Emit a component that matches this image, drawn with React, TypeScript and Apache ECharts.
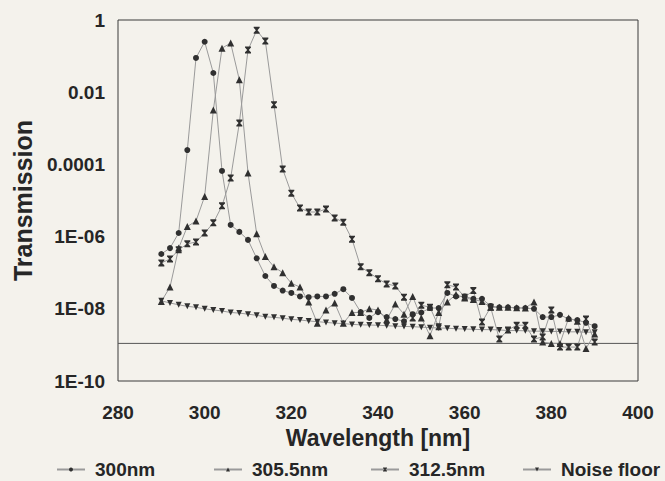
import React, { useEffect, useRef } from "react";
import * as echarts from "echarts";

const WAVELENGTHS = [
  290, 292, 294, 296, 298, 300, 302, 304, 306, 308,
  310, 312, 314, 316, 318, 320, 322, 324, 326, 328,
  330, 332, 334, 336, 338, 340, 342, 344, 346, 348,
  350, 352, 354, 356, 358, 360, 362, 364, 366, 368,
  370, 372, 374, 376, 378, 380, 382, 384, 386, 388,
  390,
];

const T_300 = [
  3.3e-7, 4.8e-7, 1.26e-6, 2.5e-4, 8.9e-2, 0.25, 3.4e-2, 6.6e-5, 2.1e-6, 1.35e-6,
  8.1e-7, 2.5e-7, 8.1e-8, 4.3e-8, 3.2e-8, 2.75e-8, 2.2e-8, 2.1e-8, 2.2e-8, 2.2e-8,
  2.6e-8, 3.5e-8, 2.0e-8, 8.1e-9, 5.6e-9, 8.1e-9, 5.9e-9, 5.2e-9, 4.5e-9, 7.1e-9,
  7.9e-9, 1.05e-8, 1.05e-8, 2.75e-8, 2.2e-8, 2.2e-8, 1.9e-8, 1.9e-8, 1.2e-8, 1.1e-8,
  1.1e-8, 1.05e-8, 1.05e-8, 1.0e-8, 5.9e-9, 5.9e-9, 6.8e-9, 5.2e-9, 4.9e-9, 4.1e-9,
  3.3e-9,
];

const T_305 = [
  1.6e-8, 4.0e-8, 4.8e-7, 1.9e-6, 2.7e-6, 1.3e-5, 3.2e-3, 0.166, 0.23, 2.2e-2,
  5.8e-5, 1.2e-6, 2.8e-7, 1.45e-7, 1.0e-7, 5.1e-8, 4.0e-8, 1.55e-8, 4.0e-9, 9.3e-9,
  1.45e-8, 4.0e-9, 7.9e-9, 7.9e-9, 1.0e-8, 9.3e-9, 5.0e-9, 1.35e-8, 7.1e-9, 2.2e-8,
  5.6e-9, 1.8e-9, 7.9e-9, 1.55e-8, 2.5e-8, 2.0e-8, 1.8e-8, 1.6e-8, 1.1e-8, 1.1e-8,
  1.1e-8, 1.07e-8, 1.05e-8, 1.55e-8, 1.2e-9, 1.1e-9, 1.1e-9, 5.6e-9, 4.5e-9, 8e-10,
  2.0e-9,
];

const T_312 = [
  1.86e-7, 2.4e-7, 4.3e-7, 6.3e-7, 7.1e-7, 1.26e-6, 2.4e-6, 7.1e-6, 4.2e-5, 1.4e-3,
  0.148, 0.52, 0.26, 4.5e-3, 7.4e-5, 1.6e-5, 6.2e-6, 4.8e-6, 4.8e-6, 5.8e-6,
  3.3e-6, 2.5e-6, 8.5e-7, 1.45e-7, 1.0e-7, 6.8e-8, 4.9e-8, 4.3e-8, 2.1e-8, 5.6e-9,
  1.26e-8, 1.1e-8, 3.2e-9, 4.6e-8, 4.0e-8, 2.1e-8, 3.2e-8, 4.3e-9, 1.1e-8, 1.45e-9,
  2.6e-9, 3.5e-9, 3.5e-9, 1.45e-9, 1.66e-9, 9.3e-9, 8.7e-10, 8.7e-10, 8.7e-10, 5.2e-9,
  1.2e-9,
];

const T_NOISE = [
  1.66e-8, 1.45e-8, 1.29e-8, 1.17e-8, 1.1e-8, 1.0e-8, 9.3e-9, 8.7e-9, 7.9e-9, 7.6e-9,
  7.1e-9, 6.6e-9, 6.0e-9, 5.8e-9, 5.5e-9, 5.1e-9, 4.9e-9, 4.6e-9, 4.4e-9, 4.2e-9,
  4.0e-9, 3.9e-9, 3.7e-9, 3.6e-9, 3.55e-9, 3.5e-9, 3.4e-9, 3.3e-9, 3.25e-9, 3.2e-9,
  3.1e-9, 3.0e-9, 2.95e-9, 2.9e-9, 2.8e-9, 2.75e-9, 2.7e-9, 2.65e-9, 2.65e-9, 2.6e-9,
  2.5e-9, 2.5e-9, 2.45e-9, 2.4e-9, 2.4e-9, 2.35e-9, 2.35e-9, 2.3e-9, 2.3e-9, 2.25e-9,
  2.25e-9,
];

const REFERENCE_LEVEL = 1.1e-9;
const X_RANGE = [280, 400];

const SERIES_NAMES = ["300nm", "305.5nm", "312.5nm", "Noise floor"];

// exponent -> label
const Y_TICK_LABELS: Record<string, string> = {
  "0": "1",
  "-2": "0.01",
  "-4": "0.0001",
  "-6": "1E-06",
  "-8": "1E-08",
  "-10": "1E-10",
};

const FONT = "'Liberation Sans', Arial, sans-serif";
const TEXT_COLOR = "#262626";
const LINE_COLOR = "#9a9a9a";
const MARK_COLOR = "#303030";
const HOURGLASS = "path://M0,0H10V1.6L6.3,5L10,8.4V10H0V8.4L3.7,5L0,1.6Z";

function pairs(vals: number[]) {
  return WAVELENGTHS.map((w, i) => [w, vals[i]]);
}

export default function App() {
  const ref = useRef<HTMLDivElement>(null);

  useEffect(() => {
    if (!ref.current) return;
    const chart = echarts.init(ref.current, undefined, { renderer: "svg" });

    const baseSeries = (name: string, data: number[], symbol: string, size: any, extra: any = {}) => ({
      name,
      type: "line",
      data: pairs(data),
      symbol,
      symbolSize: size,
      showSymbol: true,
      lineStyle: { color: LINE_COLOR, width: 1 },
      itemStyle: { color: MARK_COLOR, borderWidth: 0 },
      emphasis: { disabled: true },
      z: 3,
      ...extra,
    });

    const legendCommon = {
      top: 455,
      itemWidth: 28,
      itemHeight: 5,
      textStyle: {
        fontFamily: FONT,
        fontSize: 19,
        fontWeight: "bold",
        color: TEXT_COLOR,
        padding: [0, 0, 0, 5],
      },
    };

    chart.setOption({
      animation: false,
      backgroundColor: "#f4f2ec",
      grid: {
        left: 118,
        right: 27,
        top: 20,
        bottom: 100,
        show: true,
        borderColor: "#3a3a3a",
        borderWidth: 1,
        backgroundColor: "transparent",
      },
      legend: [
        { ...legendCommon, left: 51, data: [SERIES_NAMES[0]] },
        { ...legendCommon, left: 208, data: [SERIES_NAMES[1]] },
        { ...legendCommon, left: 365, data: [SERIES_NAMES[2]] },
        { ...legendCommon, left: 517, data: [SERIES_NAMES[3]] },
      ],
      xAxis: {
        type: "value",
        min: 280,
        max: 400,
        interval: 20,
        name: "Wavelength [nm]",
        nameLocation: "middle",
        nameGap: 45,
        nameTextStyle: { fontFamily: FONT, fontSize: 23, fontWeight: "bold", color: TEXT_COLOR },
        axisLine: { show: false },
        axisTick: { show: false },
        splitLine: { show: false },
        axisLabel: { fontFamily: FONT, fontSize: 19, fontWeight: "bold", color: TEXT_COLOR, margin: 22 },
      },
      yAxis: {
        type: "log",
        logBase: 10,
        min: 1e-10,
        max: 1,
        interval: 2,
        splitNumber: 5,
        name: "Transmission",
        nameLocation: "middle",
        nameGap: 80,
        nameTextStyle: { fontFamily: FONT, fontSize: 25, fontWeight: "bold", color: TEXT_COLOR },
        axisLine: { show: false },
        axisTick: { show: false },
        splitLine: { show: false },
        minorTick: { show: false },
        axisLabel: {
          fontFamily: FONT,
          fontSize: 19,
          fontWeight: "bold",
          color: TEXT_COLOR,
          margin: 13,
          formatter: (v: number) => {
            const e = Math.round(Math.log10(v));
            return Y_TICK_LABELS[String(e)] ?? "";
          },
        },
      },
      series: [
        {
          name: "reference",
          type: "line",
          data: X_RANGE.map((x) => [x, REFERENCE_LEVEL]),
          symbol: "none",
          silent: true,
          lineStyle: { color: "#555", width: 1 },
          z: 1,
        },
        baseSeries(SERIES_NAMES[0], T_300, "circle", 6),
        baseSeries(SERIES_NAMES[1], T_305, "triangle", 7),
        baseSeries(SERIES_NAMES[2], T_312, HOURGLASS, [6, 7]),
        baseSeries(SERIES_NAMES[3], T_NOISE, "triangle", 6, { symbolRotate: 180 }),
      ],
    });

    return () => chart.dispose();
  }, []);

  return (
    <div
      ref={ref}
      style={{ position: "absolute", left: 0, top: 0, width: 665, height: 481 }}
    />
  );
}
